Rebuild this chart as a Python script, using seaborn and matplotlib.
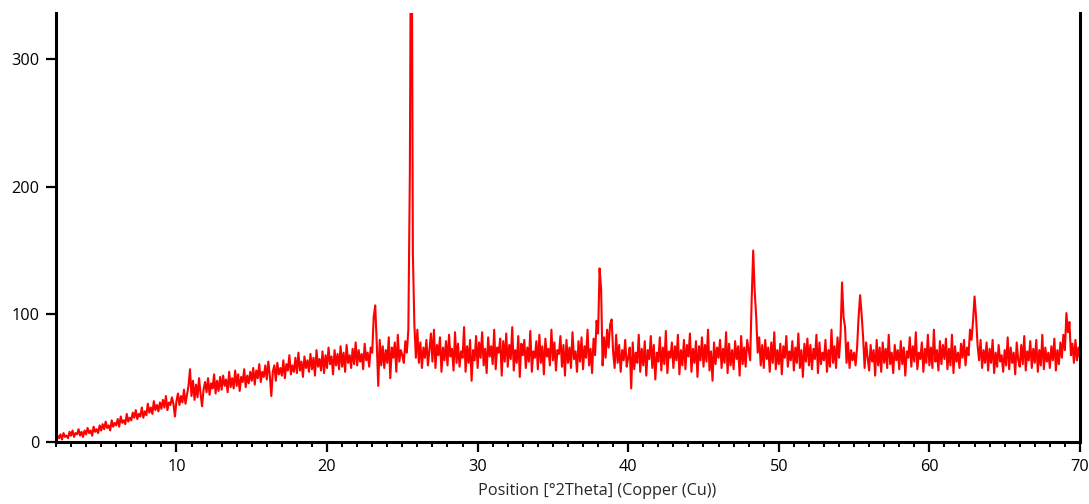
import matplotlib
matplotlib.use("Agg")

import numpy as np
import matplotlib.pyplot as plt
from matplotlib.ticker import MultipleLocator
import seaborn as sns

# scan grid: 2 .. 70 deg 2theta, step 0.1
two_theta = np.round(np.arange(2.0, 70.05, 0.1), 1)

# counts, one row per degree (x.0 .. x.9)
counts_rows = [
    [1, 5, 3, 6, 2, 7, 4, 5, 3, 8],
    [5, 9, 4, 7, 6, 10, 5, 8, 4, 9],
    [6, 11, 7, 9, 5, 12, 8, 10, 7, 13],
    [9, 14, 10, 16, 11, 13, 9, 17, 12, 15],
    [13, 18, 12, 20, 15, 17, 14, 22, 16, 19],
    [17, 23, 19, 25, 18, 22, 20, 27, 19, 24],
    [21, 30, 23, 27, 22, 32, 25, 29, 24, 31],
    [26, 33, 27, 36, 25, 31, 29, 35, 30, 20],
    [32, 38, 29, 36, 31, 41, 30, 37, 44, 57],
    [36, 48, 33, 45, 35, 50, 38, 28, 41, 47],
    [39, 50, 37, 46, 42, 53, 38, 48, 40, 51],
    [41, 52, 44, 49, 39, 55, 43, 50, 42, 56],
    [44, 53, 40, 51, 47, 57, 43, 52, 46, 55],
    [48, 58, 45, 56, 50, 61, 47, 55, 51, 60],
    [49, 63, 52, 36, 55, 60, 48, 62, 53, 58],
    [52, 64, 50, 61, 56, 68, 53, 60, 55, 66],
    [54, 70, 56, 63, 51, 67, 58, 64, 55, 69],
    [57, 66, 52, 72, 59, 65, 56, 71, 54, 68],
    [58, 74, 61, 67, 53, 72, 60, 69, 57, 75],
    [59, 70, 55, 76, 62, 68, 58, 73, 61, 78],
    [60, 72, 63, 69, 57, 77, 64, 70, 59, 74],
    [70, 98, 107, 78, 44, 80, 60, 75, 58, 72],
    [62, 82, 50, 74, 66, 78, 55, 84, 63, 72],
    [68, 62, 79, 70, 88, 210, 500, 148, 92, 66],
    [88, 62, 78, 58, 74, 66, 80, 60, 72, 85],
    [63, 88, 58, 76, 68, 82, 55, 74, 64, 79],
    [60, 84, 67, 73, 56, 86, 62, 77, 59, 71],
    [66, 90, 55, 75, 62, 80, 48, 72, 64, 83],
    [58, 78, 66, 86, 60, 73, 54, 82, 67, 75],
    [61, 88, 57, 74, 70, 81, 52, 79, 63, 85],
    [59, 76, 65, 90, 56, 72, 62, 83, 51, 77],
    [68, 80, 58, 74, 63, 87, 55, 71, 66, 79],
    [57, 84, 62, 75, 53, 81, 67, 73, 60, 88],
    [64, 78, 56, 72, 69, 83, 59, 76, 52, 80],
    [62, 74, 58, 86, 65, 71, 55, 79, 63, 82],
    [57, 75, 66, 88, 60, 73, 54, 81, 68, 95],
    [85, 136, 120, 60, 82, 66, 88, 74, 92, 96],
    [70, 58, 84, 62, 76, 55, 72, 64, 80, 59],
    [66, 74, 42, 78, 57, 70, 62, 84, 55, 73],
    [60, 79, 52, 72, 65, 83, 58, 76, 49, 70],
    [63, 82, 56, 74, 61, 87, 54, 71, 66, 78],
    [58, 75, 64, 84, 53, 72, 60, 80, 57, 76],
    [67, 85, 55, 73, 62, 79, 51, 75, 64, 82],
    [59, 76, 63, 88, 56, 71, 48, 78, 61, 74],
    [66, 80, 58, 73, 62, 86, 54, 77, 60, 72],
    [57, 79, 65, 75, 52, 83, 61, 74, 59, 80],
    [72, 64, 112, 150, 118, 98, 70, 82, 60, 76],
    [58, 80, 65, 74, 55, 78, 62, 86, 57, 72],
    [61, 77, 53, 75, 66, 83, 59, 71, 64, 79],
    [56, 74, 62, 85, 58, 72, 51, 77, 63, 81],
    [60, 76, 57, 73, 65, 84, 54, 78, 61, 70],
    [64, 80, 55, 72, 59, 88, 62, 75, 58, 82],
    [66, 84, 125, 98, 90, 62, 78, 58, 72, 64],
    [70, 60, 74, 98, 115, 100, 82, 58, 78, 66],
    [56, 76, 63, 72, 52, 80, 60, 74, 55, 78],
    [62, 73, 58, 84, 61, 70, 54, 76, 64, 72],
    [57, 79, 61, 74, 52, 71, 66, 82, 59, 75],
    [63, 86, 57, 70, 65, 78, 55, 73, 62, 84],
    [60, 74, 58, 88, 63, 72, 56, 79, 61, 76],
    [65, 81, 57, 73, 60, 84, 54, 75, 63, 70],
    [58, 77, 66, 80, 60, 74, 68, 88, 80, 95],
    [114, 98, 76, 64, 80, 58, 72, 62, 78, 56],
    [73, 62, 80, 54, 70, 59, 76, 63, 68, 55],
    [72, 60, 82, 57, 74, 62, 70, 53, 78, 64],
    [59, 76, 61, 83, 56, 71, 64, 79, 58, 73],
    [62, 80, 55, 72, 60, 84, 57, 74, 63, 70],
    [58, 75, 64, 81, 56, 72, 61, 78, 66, 84],
    [72, 101, 86, 94, 68, 77, 62, 80, 64, 74],
    [66],
]
counts = np.array([v for row in counts_rows for v in row], dtype=float)

x_ticks = [10, 20, 30, 40, 50, 60, 70]
y_ticks = [0, 100, 200, 300]

sns.set_style("ticks")
plt.rcParams["font.family"] = ["Open Sans", "DejaVu Sans"]

fig = plt.figure(figsize=(10.89, 5.04), dpi=100)
ax = fig.add_axes([0.0514, 0.123, 0.9403, 0.851])

sns.lineplot(x=two_theta, y=counts, ax=ax, color="#ff0000", linewidth=1.5,
             sort=False, estimator=None)

ax.set_xlim(2, 70)
ax.set_ylim(0, 336)
ax.set_xticks(x_ticks)
ax.set_yticks(y_ticks)
ax.xaxis.set_minor_locator(MultipleLocator(1))

for side in ["left", "bottom", "right"]:
    ax.spines[side].set_linewidth(2.2)
    ax.spines[side].set_color("black")
ax.spines["top"].set_visible(False)

ax.tick_params(axis="both", which="major", length=7, width=1.6,
               labelsize=11.7, colors="black", pad=5)
ax.tick_params(axis="x", which="minor", length=3.5, width=1.4, colors="black")
ax.tick_params(axis="y", which="minor", length=0)

ax.set_xlabel("Position [°2Theta] (Copper (Cu))", fontsize=11.7)
ax.xaxis.set_label_coords(0.528, -0.095)
ax.set_ylabel("")

fig.savefig("out.png", dpi=100)
plt.close(fig)
